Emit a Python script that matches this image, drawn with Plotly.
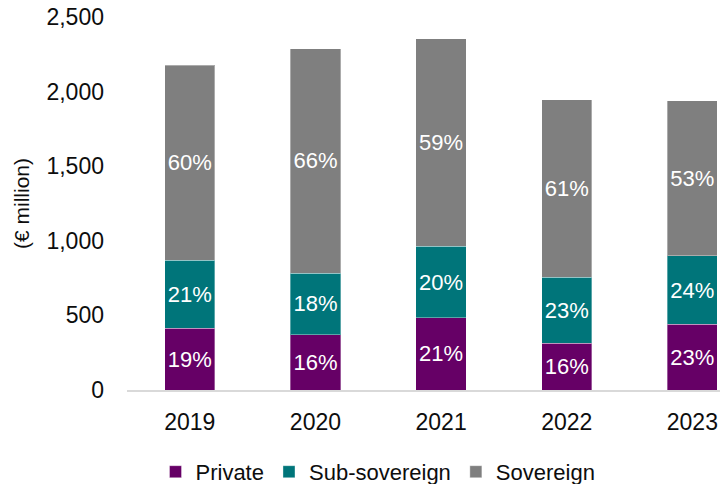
import plotly.graph_objects as go

years = ["2019", "2020", "2021", "2022", "2023"]
private = [414, 369, 483, 313, 440]
sub_sovereign = [455, 415, 480, 442, 460]
sovereign = [1308, 1504, 1390, 1191, 1038]
private_pct = ["19%", "16%", "21%", "16%", "23%"]
sub_pct = ["21%", "18%", "20%", "23%", "24%"]
sov_pct = ["60%", "66%", "59%", "61%", "53%"]
y_ticks = [0, 500, 1000, 1500, 2000, 2500]
y_ticktext = ["0", "500", "1,000", "1,500", "2,000", "2,500"]

FONT = "Liberation Sans"
series = [
    ("Private", private, private_pct, "#660066"),
    ("Sub-sovereign", sub_sovereign, sub_pct, "#00757A"),
    ("Sovereign", sovereign, sov_pct, "#7F7F7F"),
]

fig = go.Figure()
for name, vals, labels, color in series:
    fig.add_trace(go.Bar(
        name=name, x=years, y=vals, text=labels,
        textposition="inside", insidetextanchor="middle", textangle=0,
        constraintext="none",
        textfont=dict(family=FONT, size=22, color="white"),
        marker=dict(color=color, line=dict(color="rgba(255,255,255,0.35)", width=1)),
        hoverinfo="skip",
    ))

fig.update_layout(
    barmode="stack", bargap=0.6,
    width=720, height=484,
    margin=dict(l=127, r=0, t=17, b=93.5),
    paper_bgcolor="white", plot_bgcolor="white",
    font=dict(family=FONT, size=22, color="#0d0d0d"),
    showlegend=True,
    legend=dict(orientation="h", xref="container", yref="container",
                x=0.525, xanchor="center", y=0.025, yanchor="middle",
                font=dict(family=FONT, size=22, color="#0d0d0d"),
                traceorder="normal"),
    xaxis=dict(type="category", range=[-0.5, 4.22], showline=True,
               linecolor="#d9d9d9", linewidth=1.5, showgrid=False,
               ticks="", ticklabelstandoff=11,
               tickfont=dict(family=FONT, size=23, color="#0d0d0d")),
    yaxis=dict(range=[0, 2500], tickvals=y_ticks, ticktext=y_ticktext,
               showgrid=False, zeroline=False, showline=False, ticks="",
               ticklabelstandoff=22,
               tickfont=dict(family=FONT, size=23, color="#0d0d0d"),
               title=dict(text="(€ million)", standoff=11,
                          font=dict(family=FONT, size=21, color="#0d0d0d"))),
)

fig.write_html("out.html")
